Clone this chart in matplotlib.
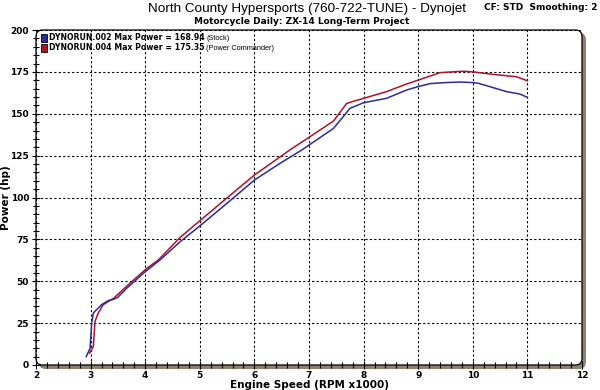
import numpy as np
import matplotlib
matplotlib.use('Agg')
import matplotlib.pyplot as plt
from matplotlib.patches import FancyBboxPatch, Rectangle
from matplotlib.ticker import MultipleLocator

# --- data ---
stock_rpm = [2.92, 2.99, 3.02, 3.05, 3.11, 3.20, 3.32, 3.42, 3.50, 3.66, 4.00, 4.27,
             4.64, 5.00, 5.50, 6.00, 6.45, 6.87, 7.00, 7.45, 7.75, 8.00, 8.42, 8.79,
             9.00, 9.22, 9.50, 9.77, 10.00, 10.10, 10.31, 10.62, 10.86, 11.00]
stock_hp = [5, 10, 25, 31, 33, 36, 38.4, 39.2, 40.5, 45.8, 55.7, 62.7,
            73.6, 83.0, 96.6, 110.4, 120.0, 128.4, 131.3, 141.3, 153.2, 156.6, 159.2, 164.2,
            166.2, 168.0, 168.6, 168.94, 168.6, 168.2, 166.2, 163.2, 161.8, 159.8]

pc_rpm = [2.98, 3.05, 3.08, 3.14, 3.23, 3.42, 3.72, 4.03, 4.24, 4.64, 5.00, 5.50,
          6.00, 6.65, 6.85, 7.00, 7.45, 7.69, 8.00, 8.42, 8.79, 9.00, 9.40, 9.70,
          9.85, 10.00, 10.37, 10.80, 11.00]
pc_hp = [7, 11, 26, 31, 36, 39.8, 48.8, 57.7, 62.7, 76.2, 86.1, 99.8,
         113.4, 128.4, 132.7, 135.9, 145.7, 156.2, 159.2, 163.2, 167.8, 170.1, 174.5, 175.2,
         175.35, 175.0, 173.5, 172.1, 169.7]

legend_runs = ['DYNORUN.002 Max Power = 168.94', 'DYNORUN.004 Max Power = 175.35']
legend_notes = ['(Stock)', '(Power Commander)']

BLUE = '#2b2b9c'
RED = '#b0122a'
TAUPE = '#8a8370'

W, H = 600, 390
fig = plt.figure(figsize=(6, 3.9), dpi=100)
L, R, T, B = 36, 582, 30, 365
ax = fig.add_axes([L / W, 1 - B / H, (R - L) / W, (B - T) / H])
ax.set_xlim(2, 12)
ax.set_ylim(0, 200)
for s in ax.spines.values():
    s.set_visible(False)

# frame with rounded corners + shadow
asp = (R - L) / (B - T)
shadow = FancyBboxPatch((0.006, -0.010), 1, 1, boxstyle='round,pad=0,rounding_size=0.012',
                        mutation_aspect=asp, transform=ax.transAxes, facecolor=TAUPE,
                        edgecolor=TAUPE, lw=1, clip_on=False, zorder=0)
ax.add_patch(shadow)
frame = FancyBboxPatch((0, 0), 1, 1, boxstyle='round,pad=0,rounding_size=0.012',
                       mutation_aspect=asp, transform=ax.transAxes, facecolor='white',
                       edgecolor='black', lw=0.9, clip_on=False, zorder=0.5)
ax.add_patch(frame)
ax.set_facecolor('none')
fig.patch.set_facecolor('white')

ax.xaxis.set_major_locator(MultipleLocator(1))
ax.xaxis.set_minor_locator(MultipleLocator(0.2))
ax.yaxis.set_major_locator(MultipleLocator(25))
ax.yaxis.set_minor_locator(MultipleLocator(5))
ax.tick_params(which='both', direction='inout', color='black', width=0.8)
ax.tick_params(which='major', length=6, labelsize=6.5, pad=2)
ax.tick_params(which='minor', length=5)
ax.tick_params(axis='x', pad=1)
for lab in ax.get_xticklabels() + ax.get_yticklabels():
    lab.set_fontweight('bold')

ax.grid(True, which='major', color='black', linestyle=(0, (2, 2)), lw=0.8)

ax.plot(stock_rpm, stock_hp, color=BLUE, lw=1.1, zorder=3)
ax.plot(pc_rpm, pc_hp, color=RED, lw=1.1, zorder=2.5)

ax.set_xlabel('Engine Speed (RPM x1000)', fontsize=7.5, fontweight='bold', labelpad=0)
ax.set_ylabel('Power (hp)', fontsize=7.5, fontweight='bold')
ax.yaxis.set_label_coords(-0.045, 0.5)

# headers
fig.text(307 / W, 1 - 9 / H, 'North County Hypersports (760-722-TUNE) - Dynojet',
         ha='center', va='center', fontsize=9.7, family='Liberation Sans')
fig.text(598 / W, 1 - 8 / H, 'CF: STD  Smoothing: 2', ha='right', va='center',
         fontsize=6.5, fontweight='bold')
fig.text(302 / W, 1 - 22 / H, 'Motorcycle Daily: ZX-14 Long-Term Project',
         ha='center', va='center', fontsize=6.5, fontweight='bold')

# legend
fig.canvas.draw()
renderer = fig.canvas.get_renderer()
for i, (run, note, c) in enumerate(zip(legend_runs, legend_notes, [BLUE, RED])):
    y = 38 + i * 10
    fig.patches.append(Rectangle((41 / W, 1 - (y + 4) / H), 6 / W, 8 / H, transform=fig.transFigure,
                                 facecolor=c, edgecolor='black', lw=0.6))
    t = fig.text(49 / W, 1 - y / H, run, ha='left', va='center', fontsize=5.6,
                 fontweight='bold', family='DejaVu Sans')
    x_end = t.get_window_extent(renderer).x1
    fig.text((x_end + 2) / W, 1 - y / H, note, ha='left', va='center', fontsize=5.3,
             family='Liberation Sans')

fig.savefig('out.png', dpi=100)
